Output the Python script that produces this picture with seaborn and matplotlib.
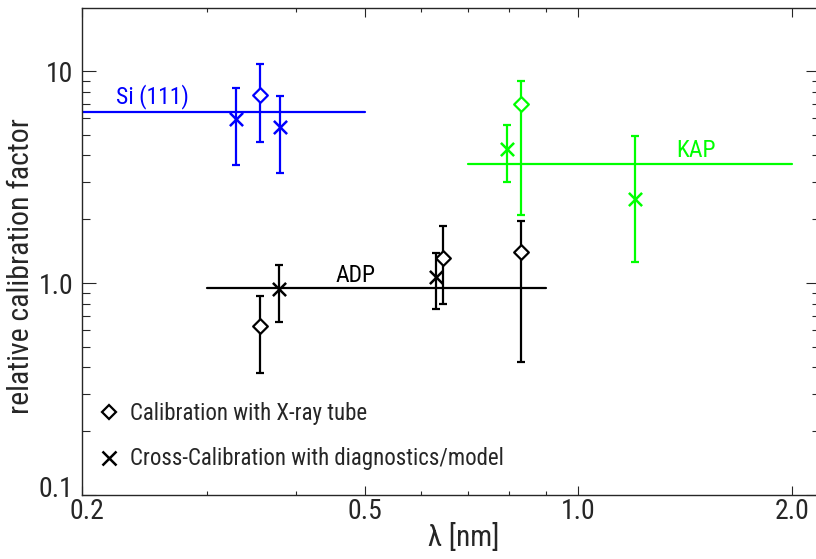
import numpy as np
import pandas as pd
import matplotlib
matplotlib.use("Agg")
import matplotlib.pyplot as plt
import matplotlib.transforms as mtransforms
from matplotlib import font_manager
from matplotlib.ticker import FixedLocator, NullFormatter
import seaborn as sns

# Data
# each point: wavelength, factor, lower / upper end of the error bar, method
crystal = ["Si (111)", "Si (111)", "Si (111)",
           "KAP", "KAP", "KAP",
           "ADP", "ADP", "ADP", "ADP", "ADP"]
wavelength = [0.330, 0.356, 0.380,
              0.794, 0.830, 1.20,
              0.356, 0.379, 0.630, 0.645, 0.830]
factor = [5.95, 7.68, 5.43,
          4.30, 6.97, 2.48,
          0.626, 0.937, 1.07, 1.32, 1.40]
err_low = [3.60, 4.64, 3.30,
           3.01, 2.10, 1.255,
           0.376, 0.658, 0.752, 0.794, 0.424]
err_high = [8.32, 10.8, 7.65,
            5.57, 9.00, 4.96,
            0.872, 1.22, 1.38, 1.86, 1.96]
method = ["cross", "tube", "cross",
          "cross", "tube", "cross",
          "tube", "cross", "cross", "tube", "tube"]

# mean factor per crystal and the wavelength range it covers
mean_names = ["Si (111)", "KAP", "ADP"]
mean_value = [6.42, 3.63, 0.95]
mean_from = [0.2, 0.7, 0.3]
mean_to = [0.5, 2.0, 0.9]

legend_text = ["Calibration with X-ray tube",
               "Cross-Calibration with diagnostics/model"]

colors = {"Si (111)": "#0000ff", "KAP": "#00ff00", "ADP": "#000000"}

df = pd.DataFrame({"crystal": crystal, "wavelength": wavelength,
                   "factor": factor, "low": err_low, "high": err_high,
                   "method": method})

sns.set_style("ticks")
names = {f.name for f in font_manager.fontManager.ttflist}
fam = [n for n in ["Liberation Sans Narrow", "DejaVu Sans Condensed", "Roboto Condensed"] if n in names]
plt.rcParams["font.family"] = fam + ["DejaVu Sans"]

fig = plt.figure(figsize=(8.16, 5.59), dpi=100)
ax = fig.add_axes([0.1005, 0.1145, 0.9044, 0.8707])
ax.set_xscale("log")
ax.set_yscale("log")

# horizontal mean lines
for name, val, x0, x1 in zip(mean_names, mean_value, mean_from, mean_to):
    ax.plot([x0, x1], [val, val], color=colors[name], lw=1.6)

# error bars
for _, r in df.iterrows():
    c = colors[r["crystal"]]
    ax.errorbar(r["wavelength"], r["factor"],
                yerr=[[r["factor"] - r["low"]], [r["high"] - r["factor"]]],
                fmt="none", ecolor=c, elinewidth=1.6, capsize=3, capthick=1.6)

# markers
for name, c in colors.items():
    tube = df[(df["crystal"] == name) & (df["method"] == "tube")]
    cross = df[(df["crystal"] == name) & (df["method"] == "cross")]
    if len(tube):
        sns.scatterplot(data=tube, x="wavelength", y="factor", marker="D",
                        s=56, facecolor="white", edgecolor=c, linewidth=1.6,
                        legend=False, ax=ax, zorder=5)
    if len(cross):
        sns.scatterplot(data=cross, x="wavelength", y="factor", marker="x",
                        s=90, color=c, linewidth=1.8, legend=False, ax=ax,
                        zorder=5)

ax.text(0.223, 7.07, "Si (111)", color=colors["Si (111)"], fontsize=17)
ax.text(1.373, 3.92, "KAP", color=colors["KAP"], fontsize=17)
ax.text(0.455, 1.008, "ADP", color=colors["ADP"], fontsize=17)

# legend drawn as markers + text
ax.plot([0.218], [0.2474], marker="D", ms=7.5, mfc="none", mec="k", mew=1.6,
        ls="none")
ax.text(0.2337, 0.2253, legend_text[0], fontsize=16.5)
ax.plot([0.218], [0.1488], marker="x", ms=9.5, mec="k", mew=1.8, ls="none")
ax.text(0.2337, 0.138, legend_text[1], fontsize=16.5)

ax.set_xlim(0.2, 2.19)
ax.set_ylim(0.1, 19.8)
ax.xaxis.set_major_locator(FixedLocator([0.2, 0.5, 1.0, 2.0]))
ax.set_xticklabels(["0.2", "0.5", "1.0", "2.0"])
ax.xaxis.set_minor_locator(FixedLocator([0.3, 0.4, 0.6, 0.7, 0.8, 0.9]))
ax.xaxis.set_minor_formatter(NullFormatter())
ax.yaxis.set_major_locator(FixedLocator([0.1, 1.0, 10]))
ax.set_yticklabels(["0.1", "1.0", "10"])
ax.yaxis.set_minor_locator(FixedLocator(
    [k * 10.0 ** e for e in (-1, 0, 1) for k in range(2, 10) if k * 10.0 ** e < 20]))
ax.yaxis.set_minor_formatter(NullFormatter())
ax.tick_params(which="both", direction="in", top=True, right=True,
               labelsize=20, width=0.8)
ax.tick_params(axis="x", which="major", length=6.5, pad=2)
ax.tick_params(axis="x", which="minor", length=3.2)
ax.tick_params(axis="y", which="major", length=10, pad=6)
ax.tick_params(axis="y", which="minor", length=5.5)
for s in ax.spines.values():
    s.set_linewidth(1.0)

# corner labels sit apart in the original: 0.1 a bit up, 0.2 a bit right
fig.canvas.draw()
ax.get_yticklabels()[0].set_transform(
    ax.get_yticklabels()[0].get_transform()
    + mtransforms.ScaledTranslation(0, 8 / 100, fig.dpi_scale_trans))
ax.get_xticklabels()[0].set_transform(
    ax.get_xticklabels()[0].get_transform()
    + mtransforms.ScaledTranslation(5 / 100, 0, fig.dpi_scale_trans))

ax.set_xlabel("λ [nm]", fontsize=21)
ax.xaxis.set_label_coords(0.5176, -0.0575)
ax.set_ylabel("relative calibration factor", fontsize=21.5)
ax.yaxis.set_label_coords(-0.0637, 0.4705)

fig.savefig("out.png", dpi=100)
